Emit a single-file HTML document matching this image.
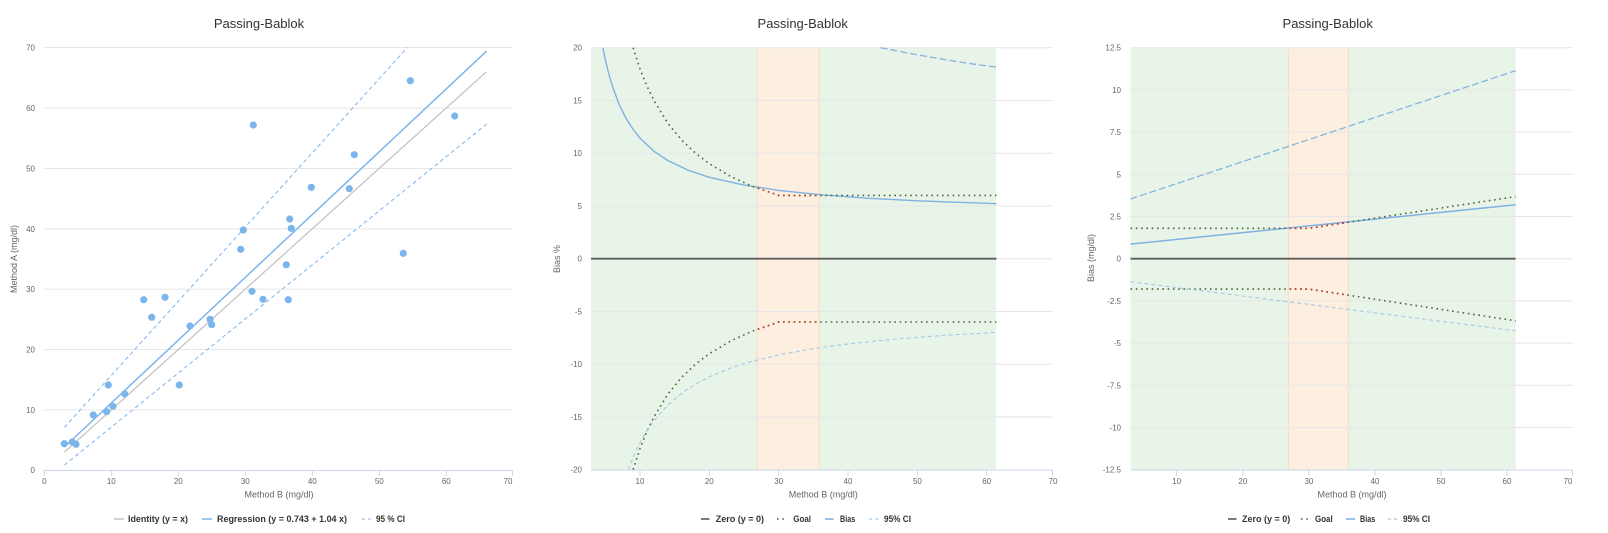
<!DOCTYPE html>
<html><head><meta charset="utf-8"><style>
html,body{margin:0;padding:0;background:#fff;}
svg{display:block;font-family:"Liberation Sans",sans-serif;}
.t{font-size:13px;fill:#333;}
.tk{font-size:8px;fill:#666;}
.at{font-size:9px;fill:#666;}
.lg{font-size:9px;fill:#333;font-weight:bold;}
.g{stroke:#e6e6e6;stroke-width:1;}
.ax{stroke:#ccd6eb;stroke-width:1;}
</style></head><body>
<svg width="1608" height="533" viewBox="0 0 1608 533" xmlns="http://www.w3.org/2000/svg">
<defs>
<clipPath id="cm"><rect x="591" y="47" width="462" height="423"/></clipPath>
<clipPath id="cr"><rect x="1130" y="47" width="444" height="423"/></clipPath>
<clipPath id="cl"><rect x="44" y="47" width="470" height="424"/></clipPath>
<clipPath id="bm"><rect x="757" y="40" width="62.3" height="440"/></clipPath>
<clipPath id="br"><rect x="1288.3" y="40" width="60" height="440"/></clipPath>
</defs>

<!-- ================= LEFT CHART ================= -->
<text class="t" x="259" y="28" text-anchor="middle">Passing-Bablok</text>
<g>
<line class="g" x1="44" y1="47.5" x2="513" y2="47.5"/>
<line class="g" x1="44" y1="108.1" x2="513" y2="108.1"/>
<line class="g" x1="44" y1="168.5" x2="513" y2="168.5"/>
<line class="g" x1="44" y1="228.9" x2="513" y2="228.9"/>
<line class="g" x1="44" y1="289.1" x2="513" y2="289.1"/>
<line class="g" x1="44" y1="349.5" x2="513" y2="349.5"/>
<line class="g" x1="44" y1="409.9" x2="513" y2="409.9"/>
<line class="ax" x1="44" y1="470.5" x2="513" y2="470.5"/>
</g>
<g class="ax">
<line x1="44.3" y1="470" x2="44.3" y2="476"/><line x1="111.3" y1="470" x2="111.3" y2="476"/>
<line x1="178.3" y1="470" x2="178.3" y2="476"/><line x1="245.3" y1="470" x2="245.3" y2="476"/>
<line x1="312.3" y1="470" x2="312.3" y2="476"/><line x1="379.3" y1="470" x2="379.3" y2="476"/>
<line x1="446.3" y1="470" x2="446.3" y2="476"/><line x1="512.5" y1="470" x2="512.5" y2="476"/>
</g>
<g class="tk" text-anchor="end">
<text x="35" y="50.5">70</text><text x="35" y="111">60</text><text x="35" y="171.5">50</text>
<text x="35" y="232">40</text><text x="35" y="292">30</text><text x="35" y="352.5">20</text>
<text x="35" y="413">10</text><text x="35" y="473">0</text>
</g>
<g class="tk" text-anchor="middle">
<text x="44.3" y="484">0</text><text x="111.3" y="484">10</text><text x="178.3" y="484">20</text>
<text x="245.3" y="484">30</text><text x="312.3" y="484">40</text><text x="379.3" y="484">50</text>
<text x="446.3" y="484">60</text><text x="508" y="484">70</text>
</g>
<text class="at" x="279" y="497.5" text-anchor="middle">Method B (mg/dl)</text>
<text class="at" transform="translate(17,259) rotate(-90)" text-anchor="middle">Method A (mg/dl)</text>
<g clip-path="url(#cl)" fill="none">
<line x1="64.4" y1="452.2" x2="486.5" y2="71.7" stroke="#c4c4c4" stroke-width="1.3"/>
<line x1="64.4" y1="447.0" x2="486.5" y2="51.2" stroke="#7cb5ec" stroke-width="1.5"/>
<line x1="64.4" y1="427.4" x2="407.4" y2="47.5" stroke="#7cb5ec" stroke-width="1" stroke-dasharray="4,3"/>
<line x1="64.4" y1="465.0" x2="486.5" y2="124.2" stroke="#7cb5ec" stroke-width="1" stroke-dasharray="4,3"/>
</g>
<g fill="#7cb5ec">
<circle cx="64.3" cy="443.7" r="3.6"/><circle cx="72.3" cy="442" r="3.6"/><circle cx="76" cy="444.3" r="3.6"/>
<circle cx="93.3" cy="415" r="3.6"/><circle cx="106.7" cy="411.7" r="3.6"/><circle cx="108.3" cy="385" r="3.6"/>
<circle cx="113" cy="406.3" r="3.6"/><circle cx="124.7" cy="394" r="3.6"/><circle cx="143.7" cy="299.7" r="3.6"/>
<circle cx="151.7" cy="317.3" r="3.6"/><circle cx="165" cy="297.3" r="3.6"/><circle cx="179.3" cy="385" r="3.6"/>
<circle cx="190" cy="326" r="3.6"/><circle cx="210" cy="319.3" r="3.6"/><circle cx="211.7" cy="324.7" r="3.6"/>
<circle cx="252" cy="291.3" r="3.6"/><circle cx="263" cy="299.3" r="3.6"/><circle cx="288.3" cy="299.7" r="3.6"/>
<circle cx="286.3" cy="264.8" r="3.6"/><circle cx="240.7" cy="249.3" r="3.6"/><circle cx="243.3" cy="230" r="3.6"/>
<circle cx="253.3" cy="125" r="3.6"/><circle cx="289.7" cy="219" r="3.6"/><circle cx="291.3" cy="228.3" r="3.6"/>
<circle cx="311.3" cy="187.3" r="3.6"/><circle cx="349.3" cy="188.7" r="3.6"/><circle cx="354.3" cy="154.7" r="3.6"/>
<circle cx="403.3" cy="253.3" r="3.6"/><circle cx="410.3" cy="80.7" r="3.6"/><circle cx="454.7" cy="116" r="3.6"/>
</g>
<!-- left legend -->
<line x1="114" y1="519" x2="124" y2="519" stroke="#c4c4c4" stroke-width="1.5"/>
<text class="lg" x="128" y="522" textLength="60" lengthAdjust="spacingAndGlyphs">Identity (y = x)</text>
<line x1="202" y1="519" x2="212" y2="519" stroke="#7cb5ec" stroke-width="1.5"/>
<text class="lg" x="217" y="522" textLength="130" lengthAdjust="spacingAndGlyphs">Regression (y = 0.743 + 1.04 x)</text>
<line x1="362" y1="519" x2="372" y2="519" stroke="#7cb5ec" stroke-width="1" stroke-dasharray="3,3"/>
<text class="lg" x="376" y="522" textLength="29" lengthAdjust="spacingAndGlyphs">95 % CI</text>

<!-- ================= MIDDLE CHART ================= -->
<text class="t" x="802.7" y="28" text-anchor="middle">Passing-Bablok</text>
<rect x="591" y="47.7" width="405" height="422" fill="#e8f4e8"/>
<rect x="757" y="47.7" width="62.3" height="422" fill="#fdefdf"/>
<line x1="757" y1="47.7" x2="757" y2="469.7" stroke="#f6dcc2" stroke-width="1"/>
<line x1="819.3" y1="47.7" x2="819.3" y2="469.7" stroke="#f6dcc2" stroke-width="1"/>
<g>
<line class="g" x1="591" y1="47.7" x2="1053" y2="47.7"/>
<line class="g" x1="591" y1="100.45" x2="1053" y2="100.45"/>
<line class="g" x1="591" y1="153.2" x2="1053" y2="153.2"/>
<line class="g" x1="591" y1="205.95" x2="1053" y2="205.95"/>
<line class="g" x1="591" y1="258.7" x2="1053" y2="258.7"/>
<line class="g" x1="591" y1="311.45" x2="1053" y2="311.45"/>
<line class="g" x1="591" y1="364.2" x2="1053" y2="364.2"/>
<line class="g" x1="591" y1="416.95" x2="1053" y2="416.95"/>
<line class="ax" x1="591" y1="470" x2="1053" y2="470"/>
</g>
<g class="ax">
<line x1="640" y1="470" x2="640" y2="476"/><line x1="709.3" y1="470" x2="709.3" y2="476"/>
<line x1="778.7" y1="470" x2="778.7" y2="476"/><line x1="848" y1="470" x2="848" y2="476"/>
<line x1="917.4" y1="470" x2="917.4" y2="476"/><line x1="986.7" y1="470" x2="986.7" y2="476"/>
<line x1="1052.5" y1="470" x2="1052.5" y2="476"/>
</g>
<g class="tk" text-anchor="end">
<text x="582" y="50.7">20</text><text x="582" y="103.5">15</text><text x="582" y="156.2">10</text>
<text x="582" y="209">5</text><text x="582" y="261.7">0</text><text x="582" y="314.5">-5</text>
<text x="582" y="367.2">-10</text><text x="582" y="420">-15</text><text x="582" y="472.7">-20</text>
</g>
<g class="tk" text-anchor="middle">
<text x="640" y="484">10</text><text x="709.3" y="484">20</text><text x="778.7" y="484">30</text>
<text x="848" y="484">40</text><text x="917.4" y="484">50</text><text x="986.7" y="484">60</text>
<text x="1053" y="484">70</text>
</g>
<text class="at" x="823.3" y="497.5" text-anchor="middle">Method B (mg/dl)</text>
<text class="at" transform="translate(560,259) rotate(-90)" text-anchor="middle">Bias %</text>
<g clip-path="url(#cm)" fill="none">
<line x1="591" y1="258.7" x2="996.4" y2="258.7" stroke="#5c5c5c" stroke-width="1.8"/>
<polyline stroke="#7fb1e3" stroke-width="1.4" points="602.9,47.9 605.3,59.7 608.8,74.0 612.3,85.9 619.2,104.6 626.1,118.5 633.1,129.4 640,138.1 653.9,151.2 667.7,160.5 688.5,170.4 709.3,177.3 744.0,185.1 778.7,190.4 820.3,194.7 868.8,198.3 917.4,200.8 996.4,203.7"/>
<polyline id="gu" stroke="#4a6a34" stroke-width="1.6" stroke-dasharray="1.6,3.7" points="633.1,47.7 640,68.8 646.9,86.1 653.9,100.4 667.7,123.1 681.6,140.0 695.5,153.2 709.3,163.7 730.1,176.1 750.9,185.7 778.7,195.4 996.4,195.4"/>
<polyline id="gl" stroke="#4a6a34" stroke-width="1.6" stroke-dasharray="1.6,3.7" points="633.1,469.7 640,448.6 646.9,431.3 653.9,417.0 667.7,394.3 681.6,377.4 695.5,364.2 709.3,353.7 730.1,341.3 750.9,331.7 778.7,322.0 996.4,322.0"/>
<g clip-path="url(#bm)">
<polyline stroke="#c0392b" stroke-width="1.6" stroke-dasharray="1.6,3.7" points="633.1,47.7 640,68.8 646.9,86.1 653.9,100.4 667.7,123.1 681.6,140.0 695.5,153.2 709.3,163.7 730.1,176.1 750.9,185.7 778.7,195.4 996.4,195.4"/>
<polyline stroke="#c0392b" stroke-width="1.6" stroke-dasharray="1.6,3.7" points="633.1,469.7 640,448.6 646.9,431.3 653.9,417.0 667.7,394.3 681.6,377.4 695.5,364.2 709.3,353.7 730.1,341.3 750.9,331.7 778.7,322.0 996.4,322.0"/>
</g>
<polyline stroke="#86b3e0" stroke-width="1.3" stroke-dasharray="7,3" points="880.6,47.7 900,51.5 917.4,54.8 935,57.9 952.1,60.8 975,64.3 996.4,67.1"/>
<polyline stroke="#a6c9e8" stroke-width="1.1" stroke-dasharray="4,3" points="628.2,469.7 633.1,457.5 640,442.8 646.9,430.8 653.9,420.9 667.7,405.1 681.6,393.3 695.5,384.1 709.3,376.9 730.1,368.2 750.9,361.7 778.7,354.9 813.4,348.6 848.1,343.9 896.6,339.0 945.1,335.3 996.4,332.4"/>
</g>
<!-- middle legend -->
<line x1="701" y1="519" x2="709.5" y2="519" stroke="#5c5c5c" stroke-width="1.6"/>
<text class="lg" x="715.7" y="522" textLength="48.3" lengthAdjust="spacingAndGlyphs">Zero (y = 0)</text>
<line x1="777" y1="519" x2="784" y2="519" stroke="#4a6a34" stroke-width="1.6" stroke-dasharray="1.6,3.7"/>
<text class="lg" x="793.3" y="522" textLength="17.7" lengthAdjust="spacingAndGlyphs">Goal</text>
<line x1="825" y1="519" x2="833.5" y2="519" stroke="#7fb1e3" stroke-width="1.6"/>
<text class="lg" x="840" y="522" textLength="15.3" lengthAdjust="spacingAndGlyphs">Bias</text>
<line x1="869.3" y1="519" x2="878.5" y2="519" stroke="#a6c9e8" stroke-width="1.2" stroke-dasharray="3,3"/>
<text class="lg" x="884" y="522" textLength="27" lengthAdjust="spacingAndGlyphs">95% CI</text>

<!-- ================= RIGHT CHART ================= -->
<text class="t" x="1327.7" y="28" text-anchor="middle">Passing-Bablok</text>
<rect x="1130.5" y="47.7" width="385.2" height="422" fill="#e8f4e8"/>
<rect x="1288.3" y="47.7" width="60" height="422" fill="#fdefdf"/>
<line x1="1288.3" y1="47.7" x2="1288.3" y2="469.7" stroke="#f6dcc2" stroke-width="1"/>
<line x1="1348.3" y1="47.7" x2="1348.3" y2="469.7" stroke="#f6dcc2" stroke-width="1"/>
<g>
<line class="g" x1="1130.5" y1="47.7" x2="1573" y2="47.7"/>
<line class="g" x1="1130.5" y1="89.9" x2="1573" y2="89.9"/>
<line class="g" x1="1130.5" y1="132.1" x2="1573" y2="132.1"/>
<line class="g" x1="1130.5" y1="174.3" x2="1573" y2="174.3"/>
<line class="g" x1="1130.5" y1="216.5" x2="1573" y2="216.5"/>
<line class="g" x1="1130.5" y1="258.7" x2="1573" y2="258.7"/>
<line class="g" x1="1130.5" y1="300.9" x2="1573" y2="300.9"/>
<line class="g" x1="1130.5" y1="343.1" x2="1573" y2="343.1"/>
<line class="g" x1="1130.5" y1="385.3" x2="1573" y2="385.3"/>
<line class="g" x1="1130.5" y1="427.5" x2="1573" y2="427.5"/>
<line class="ax" x1="1130.5" y1="470" x2="1573" y2="470"/>
</g>
<g class="ax">
<line x1="1176.7" y1="470" x2="1176.7" y2="476"/><line x1="1242.8" y1="470" x2="1242.8" y2="476"/>
<line x1="1308.9" y1="470" x2="1308.9" y2="476"/><line x1="1374.9" y1="470" x2="1374.9" y2="476"/>
<line x1="1441" y1="470" x2="1441" y2="476"/><line x1="1507" y1="470" x2="1507" y2="476"/>
<line x1="1572.5" y1="470" x2="1572.5" y2="476"/>
</g>
<g class="tk" text-anchor="end">
<text x="1121" y="50.7">12.5</text><text x="1121" y="92.9">10</text><text x="1121" y="135.1">7.5</text>
<text x="1121" y="177.3">5</text><text x="1121" y="219.5">2.5</text><text x="1121" y="261.7">0</text>
<text x="1121" y="303.9">-2.5</text><text x="1121" y="346.1">-5</text><text x="1121" y="388.3">-7.5</text>
<text x="1121" y="430.5">-10</text><text x="1121" y="472.7">-12.5</text>
</g>
<g class="tk" text-anchor="middle">
<text x="1176.7" y="484">10</text><text x="1242.8" y="484">20</text><text x="1308.9" y="484">30</text>
<text x="1374.9" y="484">40</text><text x="1441" y="484">50</text><text x="1507" y="484">60</text>
<text x="1568" y="484">70</text>
</g>
<text class="at" x="1352" y="497.5" text-anchor="middle">Method B (mg/dl)</text>
<text class="at" transform="translate(1094,258) rotate(-90)" text-anchor="middle">Bias (mg/dl)</text>
<g clip-path="url(#cr)" fill="none">
<line x1="1130.5" y1="258.7" x2="1515.6" y2="258.7" stroke="#5c5c5c" stroke-width="1.8"/>
<line x1="1130.5" y1="244.1" x2="1515.6" y2="204.8" stroke="#7fb1e3" stroke-width="1.5"/>
<polyline stroke="#4a6a34" stroke-width="1.6" stroke-dasharray="1.6,3.7" points="1130.5,228.3 1308.8,228.3 1515.6,196.6"/>
<polyline stroke="#4a6a34" stroke-width="1.6" stroke-dasharray="1.6,3.7" points="1130.5,289.1 1308.8,289.1 1515.6,320.8"/>
<g clip-path="url(#br)">
<polyline stroke="#c0392b" stroke-width="1.6" stroke-dasharray="1.6,3.7" points="1130.5,228.3 1308.8,228.3 1515.6,196.6"/>
<polyline stroke="#c0392b" stroke-width="1.6" stroke-dasharray="1.6,3.7" points="1130.5,289.1 1308.8,289.1 1515.6,320.8"/>
</g>
<line x1="1130.5" y1="199.0" x2="1515.6" y2="70.7" stroke="#86b3e0" stroke-width="1.3" stroke-dasharray="7,3"/>
<line x1="1130.5" y1="281.7" x2="1515.6" y2="330.8" stroke="#a6c9e8" stroke-width="1.1" stroke-dasharray="4,3"/>
</g>
<!-- right legend -->
<line x1="1228" y1="519" x2="1236.5" y2="519" stroke="#5c5c5c" stroke-width="1.6"/>
<text class="lg" x="1242" y="522" textLength="48.3" lengthAdjust="spacingAndGlyphs">Zero (y = 0)</text>
<line x1="1301" y1="519" x2="1308" y2="519" stroke="#4a6a34" stroke-width="1.6" stroke-dasharray="1.6,3.7"/>
<text class="lg" x="1315" y="522" textLength="17.7" lengthAdjust="spacingAndGlyphs">Goal</text>
<line x1="1346" y1="519" x2="1355" y2="519" stroke="#7fb1e3" stroke-width="1.6"/>
<text class="lg" x="1360" y="522" textLength="15.3" lengthAdjust="spacingAndGlyphs">Bias</text>
<line x1="1388" y1="519" x2="1397" y2="519" stroke="#a6c9e8" stroke-width="1.2" stroke-dasharray="3,3"/>
<text class="lg" x="1403" y="522" textLength="27" lengthAdjust="spacingAndGlyphs">95% CI</text>
</svg>
</body></html>
